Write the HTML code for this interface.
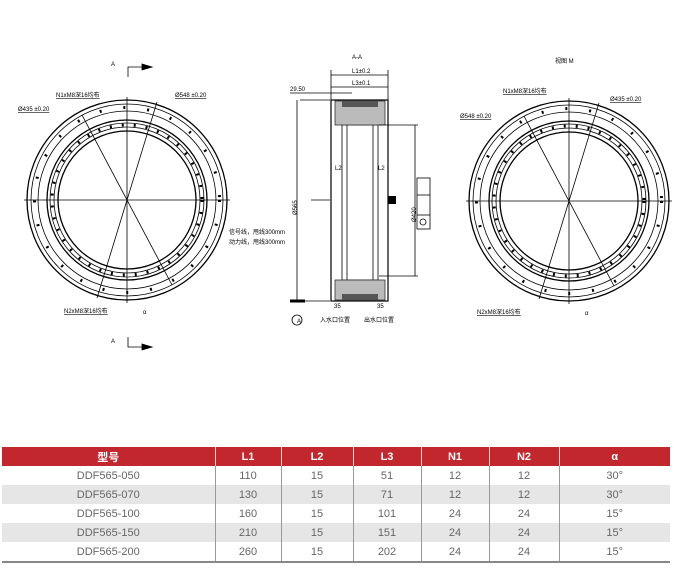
<!DOCTYPE html>
<html><head><meta charset="utf-8"><style>
body{margin:0;background:#fff;width:674px;height:574px;overflow:hidden;font-family:"Liberation Sans","Noto Sans CJK SC",sans-serif}
svg{position:absolute;left:0;top:0}
table{position:absolute;left:2px;top:447px;width:668px;border-collapse:collapse;font-size:11px;color:#666;table-layout:fixed}
th{background:#c1272d;color:#fff;height:19px;font-weight:bold;border-left:1px solid #fff;padding:0}
td{height:19px;text-align:center;padding:0;border-left:1px solid #999}
td:first-child,th:first-child{border-left:none}
tr.g td{background:#e6e6e6}
tr:last-child td{border-bottom:2px solid #888}
</style></head><body>
<svg width="674" height="440" viewBox="0 0 674 440" font-family="Liberation Sans,Noto Sans CJK SC,sans-serif" font-size="6" fill="none" stroke="#000" stroke-width="0.8">
<defs>
<g id="ring">
<circle r="100" stroke-width="1.3"/><circle r="96"/><circle r="89"/>
<circle r="92.5" stroke-dasharray="2 22" stroke-width="3"/>
<circle r="80" stroke-width="1.3"/><circle r="77"/><circle r="73"/><circle r="69" stroke-width="1.3"/>
<circle r="75" stroke-dasharray="2 10" stroke-width="3"/>
<line x1="-103" y1="0" x2="103" y2="0"/><line x1="0" y1="-103" x2="0" y2="103"/>
<line x1="-45" y1="-85" x2="45" y2="85"/><line x1="30" y1="-98" x2="-30" y2="98"/>
</g>
</defs>
<use href="#ring" x="127" y="200"/>
<use href="#ring" x="569" y="201"/>
<g fill="#000" stroke="none">
<text x="111" y="66">A</text><text x="111" y="343">A</text>
<text x="56" y="97" text-decoration="underline">N1xM8深16均布</text>
<text x="18" y="111" text-decoration="underline">Ø435 ±0.20</text>
<text x="175" y="97" text-decoration="underline">Ø548 ±0.20</text>
<text x="229" y="234">信号线，甩线300mm</text><text x="229" y="244">动力线，甩线300mm</text>
<text x="64" y="313" text-decoration="underline">N2xM8深16均布</text>
<text x="555" y="63">视图 M</text>
<text x="503" y="93" text-decoration="underline">N1xM8深16均布</text>
<text x="460" y="118" text-decoration="underline">Ø548 ±0.20</text>
<text x="610" y="101" text-decoration="underline">Ø435 ±0.20</text>
<text x="477" y="314" text-decoration="underline">N2xM8深16均布</text>
<text x="352" y="59">A-A</text>
<text x="352" y="73">L1±0.2</text><text x="352" y="85">L3±0.1</text>
<text x="290" y="91">29.50</text>
<text x="335" y="170">L2</text><text x="378" y="170">L2</text>
<text x="320" y="322">入水口位置</text><text x="364" y="322">出水口位置</text>
<text x="334" y="308">35</text><text x="377" y="308">35</text>
<text x="297" y="323">A</text>
<text x="297" y="215" transform="rotate(-90 297 215)">Ø565</text>
<text x="416" y="222" transform="rotate(-90 416 222)">Ø420</text>
<text x="143" y="314">α</text><text x="585" y="315">α</text>
</g>
<path d="M128 77V67h22M128 337v10h22" /><path d="M142 64l10 3-10 3zM142 344l10 3-10 3z" fill="#000"/>
<!-- section -->
<rect x="331" y="100" width="57" height="201" stroke-width="1.2"/>
<rect x="342" y="125" width="36" height="155"/>
<line x1="347" y1="125" x2="347" y2="280"/><line x1="373" y1="125" x2="373" y2="280"/>
<rect x="335" y="101" width="50" height="24" fill="#bbb" stroke="#333"/>
<rect x="335" y="280" width="50" height="20" fill="#bbb" stroke="#333"/>
<rect x="342" y="101" width="36" height="6" fill="#555" stroke="none"/>
<rect x="342" y="294" width="36" height="6" fill="#555" stroke="none"/>
<rect x="388" y="196" width="8" height="8" fill="#000" stroke="none"/>
<line x1="300" y1="100" x2="330" y2="100"/><line x1="300" y1="301" x2="330" y2="301"/>
<line x1="297" y1="100" x2="297" y2="301"/>
<line x1="379" y1="125" x2="418" y2="125"/><line x1="379" y1="276" x2="418" y2="276"/>
<line x1="415" y1="125" x2="415" y2="276"/>
<line x1="331" y1="75" x2="388" y2="75"/><line x1="331" y1="70" x2="331" y2="100"/><line x1="388" y1="70" x2="388" y2="100"/>
<line x1="331" y1="87" x2="388" y2="87"/>
<line x1="290" y1="93" x2="352" y2="93"/>
<rect x="417" y="178" width="13" height="51"/><line x1="417" y1="195" x2="430" y2="195"/><line x1="417" y1="215" x2="430" y2="215"/>
<circle cx="423" cy="222" r="3"/>
<line x1="290" y1="301" x2="305" y2="301" stroke-width="3"/>
<circle cx="297" cy="320" r="5"/>
<line x1="311" y1="200" x2="330" y2="200"/>
</svg>
<table>
<colgroup><col style="width:213px"><col style="width:66px"><col style="width:72px"><col style="width:68px"><col style="width:68px"><col style="width:70px"><col></colgroup>
<tr><th>型号</th><th>L1</th><th>L2</th><th>L3</th><th>N1</th><th>N2</th><th>α</th></tr>
<tr><td>DDF565-050</td><td>110</td><td>15</td><td>51</td><td>12</td><td>12</td><td>30°</td></tr>
<tr class="g"><td>DDF565-070</td><td>130</td><td>15</td><td>71</td><td>12</td><td>12</td><td>30°</td></tr>
<tr><td>DDF565-100</td><td>160</td><td>15</td><td>101</td><td>24</td><td>24</td><td>15°</td></tr>
<tr class="g"><td>DDF565-150</td><td>210</td><td>15</td><td>151</td><td>24</td><td>24</td><td>15°</td></tr>
<tr><td>DDF565-200</td><td>260</td><td>15</td><td>202</td><td>24</td><td>24</td><td>15°</td></tr>
</table>
</body></html>
